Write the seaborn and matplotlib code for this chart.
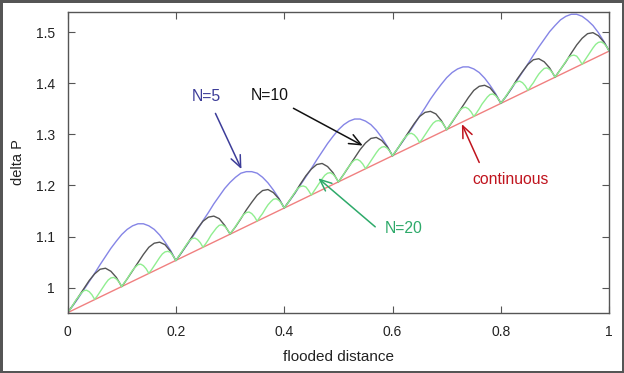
# -*- coding: utf-8 -*-

import numpy as np
import matplotlib
matplotlib.use('Agg')
import matplotlib.pyplot as plt
import seaborn as sns

# 横轴网格 (flooded distance)
x_coarse = np.linspace(0, 1, 101)
x_fine = np.linspace(0, 1, 201)

# continuous 直线
x_cont = [0.0, 1.0]
y_cont = [0.951, 1.463]

# N=5
y_n5 = [
    0.951, 0.965, 0.980, 0.996, 1.012, 1.028, 1.045, 1.061, 1.077, 1.091,
    1.104, 1.114, 1.121, 1.125, 1.125, 1.121, 1.114, 1.103, 1.089, 1.073,
    1.053, 1.068, 1.083, 1.098, 1.114, 1.131, 1.147, 1.164, 1.179, 1.194,
    1.206, 1.216, 1.224, 1.227, 1.227, 1.224, 1.216, 1.205, 1.191, 1.175,
    1.156, 1.170, 1.185, 1.201, 1.217, 1.233, 1.250, 1.266, 1.282, 1.296,
    1.309, 1.319, 1.326, 1.330, 1.330, 1.326, 1.319, 1.308, 1.294, 1.277,
    1.258, 1.273, 1.288, 1.303, 1.319, 1.336, 1.352, 1.369, 1.384, 1.398,
    1.411, 1.421, 1.428, 1.432, 1.432, 1.428, 1.421, 1.410, 1.396, 1.380,
    1.361, 1.375, 1.390, 1.406, 1.422, 1.438, 1.455, 1.471, 1.486, 1.501,
    1.513, 1.524, 1.531, 1.535, 1.535, 1.531, 1.523, 1.513, 1.499, 1.482,
    1.463,
]

# N=10
y_n10 = [
    0.951, 0.966, 0.982, 0.998, 1.014, 1.027, 1.036, 1.038, 1.032, 1.020,
    1.002, 1.017, 1.033, 1.049, 1.065, 1.079, 1.087, 1.089, 1.084, 1.071,
    1.053, 1.068, 1.084, 1.100, 1.116, 1.130, 1.138, 1.140, 1.135, 1.122,
    1.105, 1.119, 1.135, 1.152, 1.167, 1.181, 1.190, 1.192, 1.186, 1.174,
    1.156, 1.171, 1.186, 1.203, 1.219, 1.232, 1.241, 1.243, 1.237, 1.225,
    1.207, 1.222, 1.238, 1.254, 1.270, 1.283, 1.292, 1.294, 1.288, 1.276,
    1.258, 1.273, 1.289, 1.305, 1.321, 1.335, 1.343, 1.345, 1.340, 1.327,
    1.309, 1.324, 1.340, 1.356, 1.372, 1.386, 1.394, 1.396, 1.391, 1.378,
    1.361, 1.375, 1.391, 1.408, 1.423, 1.437, 1.446, 1.448, 1.442, 1.430,
    1.412, 1.427, 1.442, 1.459, 1.475, 1.488, 1.497, 1.499, 1.493, 1.481,
    1.463,
]

# N=20
y_n20 = [
    0.951, 0.958, 0.966, 0.975, 0.982, 0.989, 0.994, 0.995, 0.992, 0.986,
    0.977, 0.984, 0.992, 1.000, 1.008, 1.015, 1.019, 1.020, 1.017, 1.011,
    1.002, 1.010, 1.017, 1.026, 1.034, 1.040, 1.045, 1.046, 1.043, 1.037,
    1.028, 1.035, 1.043, 1.051, 1.059, 1.066, 1.070, 1.071, 1.069, 1.062,
    1.053, 1.061, 1.069, 1.077, 1.085, 1.092, 1.096, 1.097, 1.094, 1.088,
    1.079, 1.086, 1.094, 1.103, 1.110, 1.117, 1.122, 1.123, 1.120, 1.114,
    1.105, 1.112, 1.120, 1.128, 1.136, 1.143, 1.147, 1.148, 1.145, 1.139,
    1.130, 1.138, 1.145, 1.154, 1.162, 1.168, 1.173, 1.174, 1.171, 1.165,
    1.156, 1.163, 1.171, 1.179, 1.187, 1.194, 1.198, 1.199, 1.197, 1.190,
    1.181, 1.189, 1.197, 1.205, 1.213, 1.220, 1.224, 1.225, 1.222, 1.216,
    1.207, 1.214, 1.222, 1.231, 1.238, 1.245, 1.250, 1.251, 1.248, 1.242,
    1.233, 1.240, 1.248, 1.256, 1.264, 1.271, 1.275, 1.276, 1.273, 1.267,
    1.258, 1.266, 1.273, 1.282, 1.290, 1.296, 1.301, 1.302, 1.299, 1.293,
    1.284, 1.291, 1.299, 1.307, 1.315, 1.322, 1.326, 1.327, 1.325, 1.318,
    1.309, 1.317, 1.325, 1.333, 1.341, 1.348, 1.352, 1.353, 1.350, 1.344,
    1.335, 1.342, 1.350, 1.359, 1.366, 1.373, 1.378, 1.379, 1.376, 1.370,
    1.361, 1.368, 1.376, 1.384, 1.392, 1.399, 1.403, 1.404, 1.401, 1.395,
    1.386, 1.394, 1.401, 1.410, 1.418, 1.424, 1.429, 1.430, 1.427, 1.421,
    1.412, 1.419, 1.427, 1.435, 1.443, 1.450, 1.454, 1.455, 1.453, 1.446,
    1.437, 1.445, 1.453, 1.461, 1.469, 1.476, 1.480, 1.481, 1.478, 1.472,
    1.463,
]

x_ticks = [0, 0.2, 0.4, 0.6, 0.8, 1.0]
x_tick_labels = ['0', '0.2', '0.4', '0.6', '0.8', '1']
y_ticks = [1.0, 1.1, 1.2, 1.3, 1.4, 1.5]
y_tick_labels = ['1', '1.1', '1.2', '1.3', '1.4', '1.5']

sns.set_theme(style='ticks')
plt.rcParams['font.family'] = ['Liberation Sans', 'DejaVu Sans']

fig, ax = plt.subplots(figsize=(6.24, 3.73), dpi=100)
fig.subplots_adjust(left=0.1083, right=0.9763, bottom=0.1617, top=0.9686)
fig.patch.set_edgecolor('#555555')
fig.patch.set_linewidth(2.5)

sns.lineplot(x=x_cont, y=y_cont, ax=ax, color='#f08080', lw=1)
sns.lineplot(x=x_coarse, y=y_n5, ax=ax, color='#8585e6', lw=1)
sns.lineplot(x=x_coarse, y=y_n10, ax=ax, color='#555555', lw=1)
sns.lineplot(x=x_fine, y=y_n20, ax=ax, color='#90ee90', lw=1)

ax.set_xlim(0, 1)
ax.set_ylim(0.951, 1.54)
ax.set_xticks(x_ticks)
ax.set_xticklabels(x_tick_labels)
ax.set_yticks(y_ticks)
ax.set_yticklabels(y_tick_labels)
ax.tick_params(direction='in', length=5, width=0.8, top=True, right=True,
               labelsize=10, color='#555555', labelcolor='#222222', pad=9)
for s in ax.spines.values():
    s.set_color('#555555')
    s.set_linewidth(1)

ax.set_xlabel('flooded distance', fontsize=11, color='#222222', labelpad=8)
ax.set_ylabel('delta P', fontsize=10.5, color='#222222', labelpad=8)

# 标注
def note(text, xy, xytext, tip, color):
    ax.annotate('', xy=tip, xytext=xy,
                arrowprops=dict(arrowstyle='->,head_length=0.7,head_width=0.3',
                                color=color, lw=1.1, shrinkA=0, shrinkB=0))
    ax.text(xytext[0], xytext[1], text, color=color, fontsize=11.3,
            ha='center', va='center')

note('N=5', (0.273, 1.341), (0.257, 1.375), (0.321, 1.232), '#3d3d99')
note('N=10', (0.417, 1.351), (0.374, 1.376), (0.545, 1.278), '#111111')
note('N=20', (0.568, 1.119), (0.620, 1.116), (0.463, 1.214), '#2eaa6a')
note('continuous', (0.760, 1.245), (0.817, 1.211), (0.728, 1.320), '#c0141e')

fig.savefig('out.png', dpi=100, edgecolor=fig.get_edgecolor())
